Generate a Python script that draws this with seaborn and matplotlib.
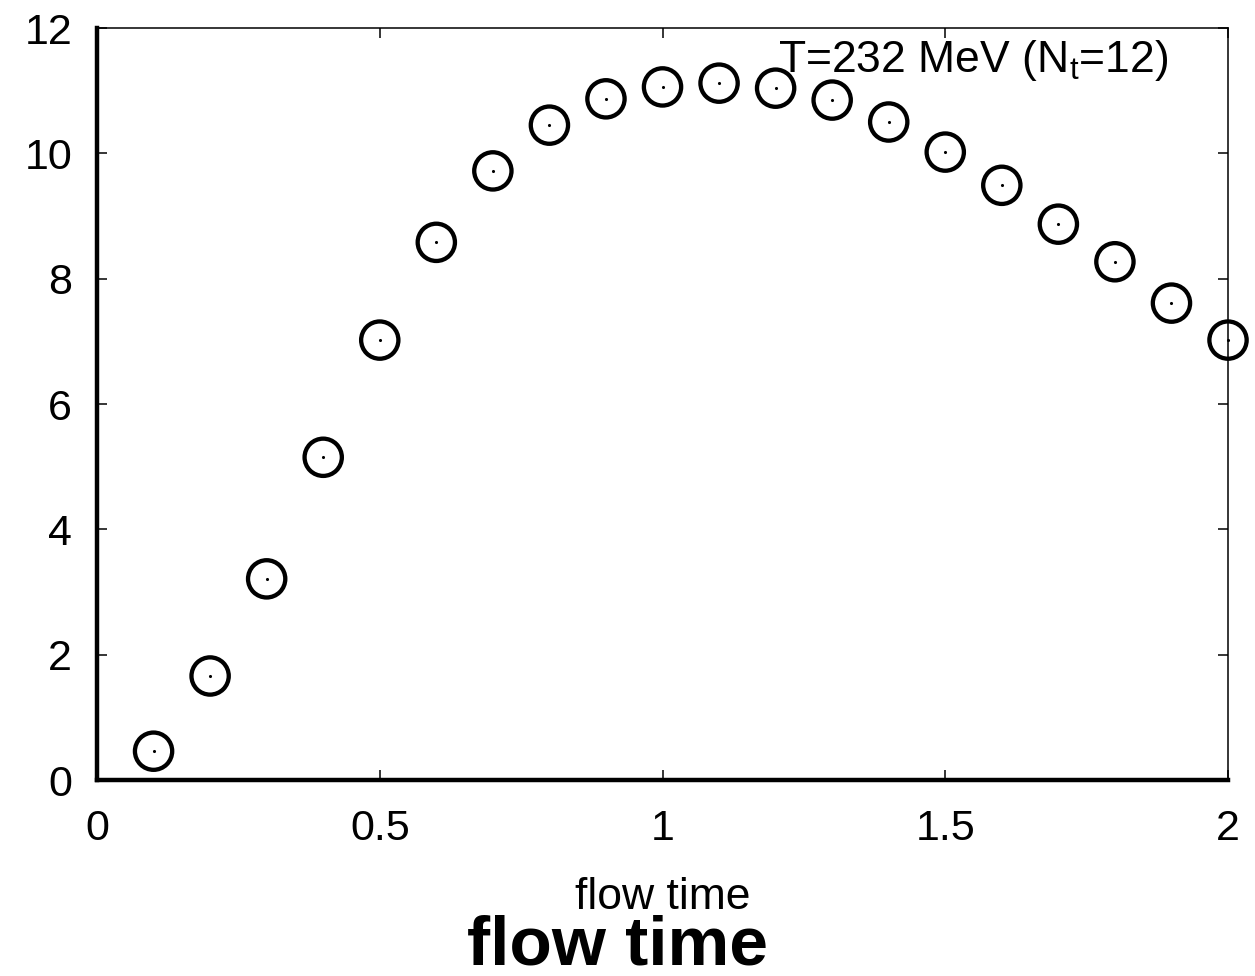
import numpy as np
import pandas as pd
import matplotlib
matplotlib.use("Agg")
import matplotlib.pyplot as plt
import seaborn as sns

flow_time = [0.1, 0.2, 0.3, 0.4, 0.5, 0.6, 0.7, 0.8, 0.9, 1.0,
             1.1, 1.2, 1.3, 1.4, 1.5, 1.6, 1.7, 1.8, 1.9, 2.0]
values = [0.46, 1.66, 3.21, 5.15, 7.02, 8.58, 9.72, 10.45, 10.87, 11.06,
          11.12, 11.04, 10.85, 10.50, 10.02, 9.49, 8.87, 8.27, 7.61, 7.02]
x_ticks = [0, 0.5, 1, 1.5, 2]
x_tick_labels = ["0", "0.5", "1", "1.5", "2"]
y_ticks = [0, 2, 4, 6, 8, 10, 12]

sns.set_theme(style="ticks")
plt.rcParams['font.family'] = ['Liberation Sans', 'DejaVu Sans']
plt.rcParams['mathtext.default'] = 'regular'
plt.rcParams['text.color'] = 'black'
plt.rcParams['axes.labelcolor'] = 'black'

df = pd.DataFrame({'flow time': flow_time, 'value': values})

fig = plt.figure(figsize=(12.55, 9.76), dpi=100)
ax = fig.add_axes([0.0773, 0.2008, 0.9012, 0.7705])

# open circles with a small dot in the middle
sns.scatterplot(data=df, x='flow time', y='value', ax=ax, marker='o', s=720,
                facecolors='none', edgecolor='black', linewidth=3.1, clip_on=False)
sns.scatterplot(data=df, x='flow time', y='value', ax=ax, marker='o', s=5,
                color='black', edgecolor='black', linewidth=0, clip_on=False)

ax.set_xlim(0, 2)
ax.set_ylim(0, 12)
ax.set_xticks(x_ticks)
ax.set_xticklabels(x_tick_labels)
ax.set_yticks(y_ticks)
ax.tick_params(direction='in', length=7, width=1.1, top=True, right=True,
               labelsize=31, colors='black')
ax.tick_params(axis='x', pad=21)
ax.tick_params(axis='y', pad=18)

for side in ['top', 'right']:
    ax.spines[side].set_linewidth(1.1)
for side in ['bottom', 'left']:
    ax.spines[side].set_linewidth(3.2)
for s in ax.spines.values():
    s.set_color('black')

ax.set_ylabel('')
ax.set_xlabel('flow time', fontsize=32)
ax.xaxis.set_label_coords(0.5, -0.129)

ax.text(0.602, 0.942, 'T=232 MeV (N$_t$=12)', transform=ax.transAxes,
        fontsize=32, va='baseline', ha='left')

fig.text(0.492, 0.012, 'flow time', fontsize=50, fontweight='bold',
         ha='center', va='baseline')

fig.savefig('out.png', dpi=100)
